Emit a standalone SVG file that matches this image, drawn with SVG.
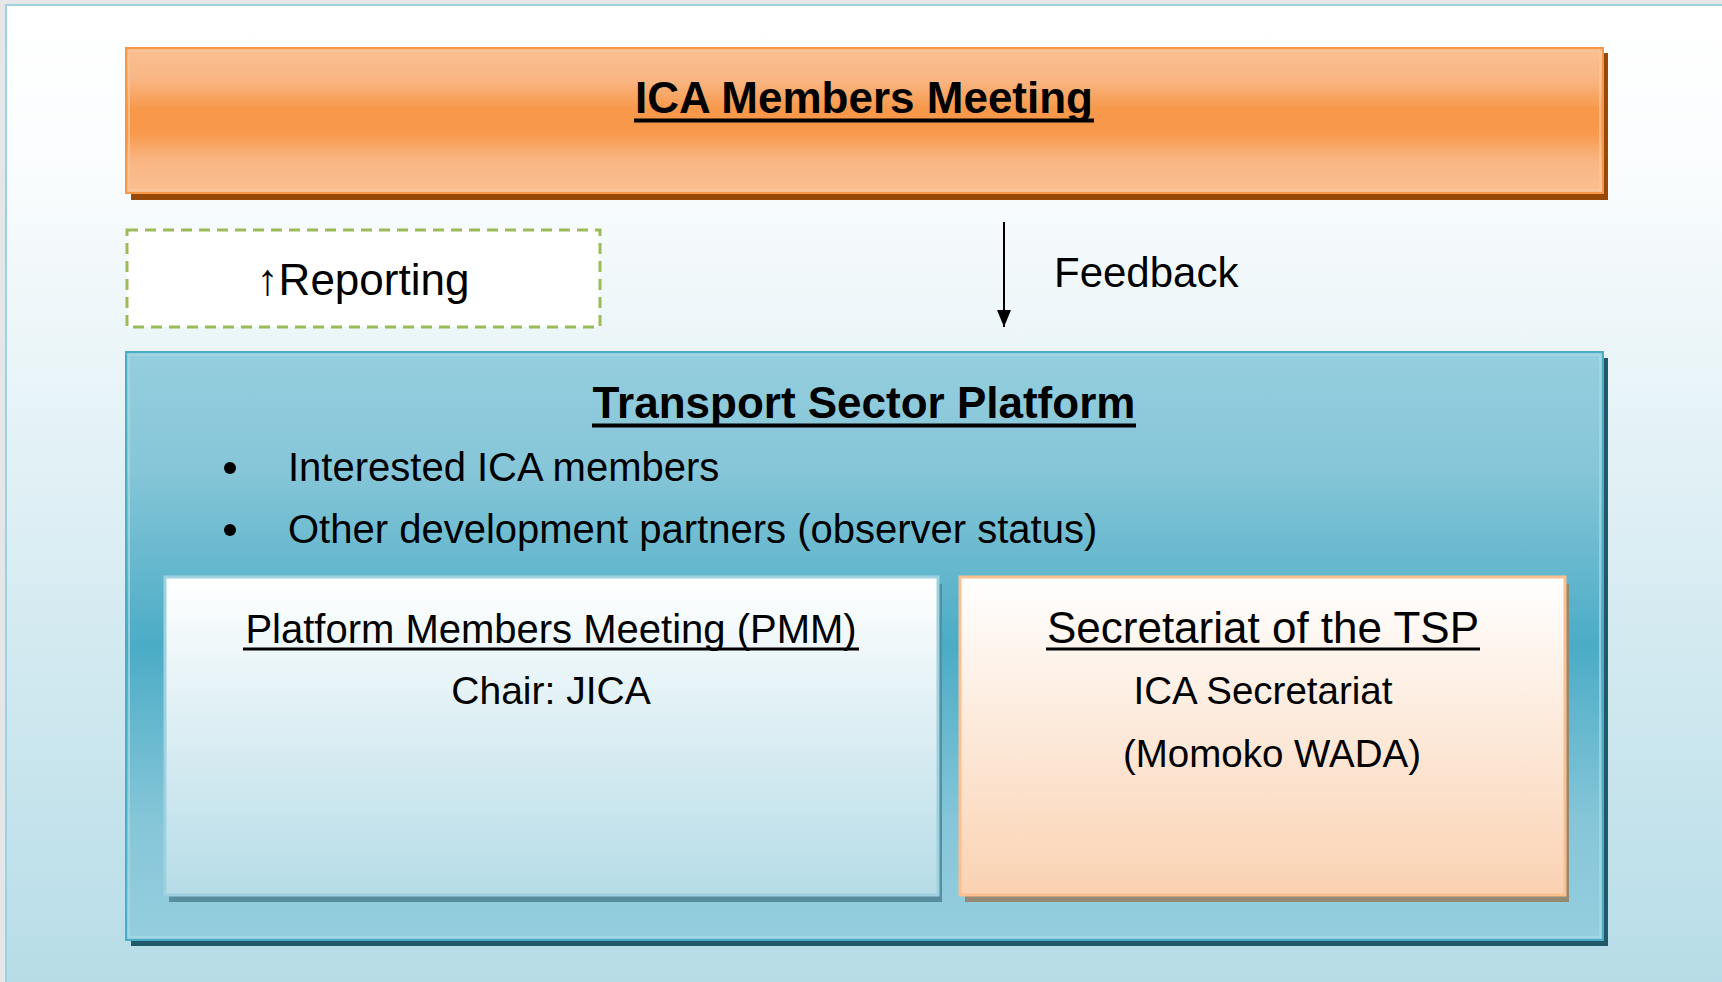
<svg xmlns="http://www.w3.org/2000/svg" width="1722" height="982" viewBox="0 0 1722 982">
<defs>
<linearGradient id="bg" x1="0" y1="0" x2="0" y2="1">
<stop offset="0" stop-color="#ffffff"/>
<stop offset="0.15" stop-color="#fbfdfe"/>
<stop offset="1" stop-color="#b6dce7"/>
</linearGradient>
<linearGradient id="og" x1="0" y1="0" x2="0" y2="1">
<stop offset="0" stop-color="#fabf91"/>
<stop offset="0.22" stop-color="#f9b684"/>
<stop offset="0.42" stop-color="#f7984a"/>
<stop offset="0.58" stop-color="#f7984a"/>
<stop offset="0.78" stop-color="#f9b684"/>
<stop offset="1" stop-color="#fabf91"/>
</linearGradient>
<linearGradient id="bl" x1="0" y1="0" x2="0" y2="1">
<stop offset="0" stop-color="#94cede"/>
<stop offset="0.2" stop-color="#86c6d8"/>
<stop offset="0.5" stop-color="#4bacc6"/>
<stop offset="0.8" stop-color="#86c6d8"/>
<stop offset="1" stop-color="#94cede"/>
</linearGradient>
<linearGradient id="wb" x1="0" y1="0" x2="0" y2="1">
<stop offset="0" stop-color="#ffffff"/>
<stop offset="1" stop-color="#b6dce7"/>
</linearGradient>
<linearGradient id="wo" x1="0" y1="0" x2="0" y2="1">
<stop offset="0" stop-color="#ffffff"/>
<stop offset="1" stop-color="#fad2b2"/>
</linearGradient>
<marker id="arr" markerUnits="userSpaceOnUse" markerWidth="18" markerHeight="18" viewBox="0 0 18 18" refX="17" refY="9" orient="auto">
<path d="M0,2 L17,9 L0,16 Z" fill="#000"/>
</marker>
</defs>
<style>
text{font-family:"Liberation Sans",Arial,sans-serif;fill:#000}
.t{font-size:44px;font-weight:bold;text-anchor:middle}
.b{font-size:40px}
.c{font-size:39px;text-anchor:middle}
.ul{fill:#000}
</style>
<rect x="0" y="0" width="1722" height="982" fill="#e4e6e8"/>
<rect x="6" y="5" width="1730" height="990" fill="url(#bg)" stroke="#9fd2e1" stroke-width="2"/>

<g id="ica-members-meeting">
<rect x="131" y="53" width="1477" height="147" fill="#984807"/>
<rect x="126" y="48" width="1477" height="145" fill="url(#og)" stroke="#f79646" stroke-width="2"/>
<rect x="129" y="51" width="1471" height="139" fill="none" stroke="#fbc59b" stroke-width="1.5"/>
<text class="t" x="864" y="113">ICA Members Meeting</text>
<rect class="ul" x="634" y="118.5" width="460" height="4"/>
</g>

<g id="reporting">
<rect x="127" y="230" width="473" height="97" fill="#ffffff" stroke="#9bbb59" stroke-width="3" stroke-dasharray="11 7"/>
<text x="363" y="295" font-size="44" text-anchor="middle">↑Reporting</text>
</g>

<g id="transport-sector-platform">
<rect x="131" y="358" width="1477" height="588" fill="#215968"/>
<rect x="126" y="352" width="1477" height="588" fill="url(#bl)" stroke="#4bacc6" stroke-width="2"/>
<rect x="129" y="355" width="1471" height="582" fill="none" stroke="#a7d7e4" stroke-width="1.5"/>
<text class="t" x="864" y="418">Transport Sector Platform</text>
<rect class="ul" x="592" y="423.5" width="544" height="4"/>
<circle cx="230" cy="468" r="6" fill="#000"/>
<text class="b" x="288" y="481">Interested ICA members</text>
<circle cx="230" cy="530" r="6" fill="#000"/>
<text class="b" x="288" y="543">Other development partners (observer status)</text>
</g>

<g id="pmm">
<rect x="169" y="584" width="773" height="318" fill="#568e9e"/>
<rect x="165" y="577" width="773" height="318" fill="url(#wb)" stroke="#9ed2e0" stroke-width="3"/>
<text x="551" y="643" font-size="40" text-anchor="middle">Platform Members Meeting (PMM)</text>
<rect class="ul" x="243" y="647.5" width="616" height="3"/>
<text class="c" x="551" y="704">Chair: JICA</text>
</g>

<g id="secretariat">
<rect x="965" y="584" width="604" height="318" fill="#948a74"/>
<rect x="960" y="577" width="605" height="318" fill="url(#wo)" stroke="#fac08f" stroke-width="3"/>
<text x="1263" y="643" font-size="44" text-anchor="middle">Secretariat of the TSP</text>
<rect class="ul" x="1046" y="647.5" width="434" height="3"/>
<text class="c" x="1263" y="704" style="font-size:38.5px">ICA Secretariat</text>
<text class="c" x="1272" y="767" style="font-size:38.5px">(Momoko WADA)</text>
</g>

<g id="connectors">
<line x1="1004" y1="222" x2="1004" y2="327" stroke="#000" stroke-width="2" marker-end="url(#arr)"/>
<text x="1054" y="287" font-size="42">Feedback</text>
</g>
</svg>
